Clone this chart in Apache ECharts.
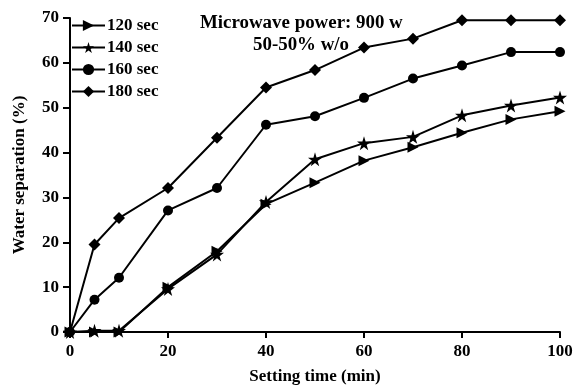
<!DOCTYPE html>
<html>
<head>
<meta charset="utf-8">
<script src="https://cdn.jsdelivr.net/npm/echarts@6/dist/echarts.min.js"></script>
<style>
  html, body { margin: 0; padding: 0; background: #fff; }
  #chart { width: 577px; height: 385px; }
</style>
</head>
<body>
<div id="chart"></div>
<script>
const times = [0, 5, 10, 20, 30, 40, 50, 60, 70, 80, 90, 100];
const sec120 = [0, 0, 0, 10, 18, 28.5, 33.3, 38.2, 41.2, 44.4, 47.4, 49.2];
const sec140 = [0, 0.3, 0.3, 9.6, 17.3, 29, 38.5, 42.1, 43.5, 48.3, 50.5, 52.3];
const sec160 = [0, 7.2, 12.1, 27.1, 32.1, 46.2, 48.1, 52.2, 56.5, 59.4, 62.4, 62.4];
const sec180 = [0, 19.5, 25.4, 32.1, 43.3, 54.5, 58.4, 63.4, 65.4, 69.5, 69.5, 69.5];

const FONT = '"Liberation Serif", "DejaVu Serif", serif';
const STAR = 'path://M50,0 L61,35 L98,35 L68,57 L79,91 L50,70 L21,91 L32,57 L2,35 L39,35 Z';

const SERIES = [
  { name: '120 sec', data: sec120, symbol: 'triangle', rotate: -90, size: 11 },
  { name: '140 sec', data: sec140, symbol: STAR, rotate: 0, size: 14 },
  { name: '160 sec', data: sec160, symbol: 'circle', rotate: 0, size: 10 },
  { name: '180 sec', data: sec180, symbol: 'diamond', rotate: 0, size: 12 },
];

const chart = echarts.init(document.getElementById('chart'));
chart.setOption({
  animation: false,
  textStyle: { fontFamily: FONT },
  grid: { left: 70, right: 17, top: 18, bottom: 53, outerBoundsMode: 'none', containLabel: false },
  legend: {
    orient: 'vertical',
    left: 71,
    top: 17,
    padding: 0,
    itemWidth: 33,
    itemHeight: 14,
    itemGap: 5,
    textStyle: { fontFamily: FONT, fontSize: 17, fontWeight: 'bold', color: '#000', padding: [0, 0, 0, -3] },
    data: SERIES.map((s) => s.name),
  },
  graphic: [
    {
      type: 'text', left: 200, top: 14,
      style: { text: 'Microwave power: 900 w', font: 'bold 18px ' + FONT, fill: '#000' },
      scaleX: 1.05,
    },
    {
      type: 'text', left: 253, top: 36,
      style: { text: '50-50% w/o', font: 'bold 18px ' + FONT, fill: '#000' },
      scaleX: 1.05,
    },
  ],
  xAxis: {
    type: 'value',
    min: 0,
    max: 100,
    interval: 20,
    name: 'Setting time (min)',
    nameLocation: 'middle',
    nameGap: 36,
    nameTextStyle: { fontFamily: FONT, fontSize: 17, fontWeight: 'bold', color: '#000' },
    axisLine: { show: true, lineStyle: { color: '#000', width: 2 } },
    axisTick: { show: true, length: 6, lineStyle: { color: '#000', width: 2 } },
    axisLabel: { fontFamily: FONT, fontSize: 17, fontWeight: 'bold', color: '#000', margin: 11 },
    splitLine: { show: false },
  },
  yAxis: {
    type: 'value',
    min: 0,
    max: 70,
    interval: 10,
    name: 'Water separation (%)',
    nameLocation: 'middle',
    nameGap: 42,
    nameTextStyle: { fontFamily: FONT, fontSize: 17, fontWeight: 'bold', color: '#000' },
    axisLine: { show: true, lineStyle: { color: '#000', width: 2 } },
    axisTick: { show: true, length: 7, lineStyle: { color: '#000', width: 2 } },
    axisLabel: { fontFamily: FONT, fontSize: 17, fontWeight: 'bold', color: '#000', margin: 11 },
    splitLine: { show: false },
  },
  series: SERIES.map((s) => ({
    name: s.name,
    type: 'line',
    data: times.map((t, i) => [t, s.data[i]]),
    symbol: s.symbol,
    symbolRotate: s.rotate,
    symbolSize: s.size,
    lineStyle: { color: '#000', width: 2 },
    itemStyle: { color: '#000' },
  })),
});
</script>
</body>
</html>
